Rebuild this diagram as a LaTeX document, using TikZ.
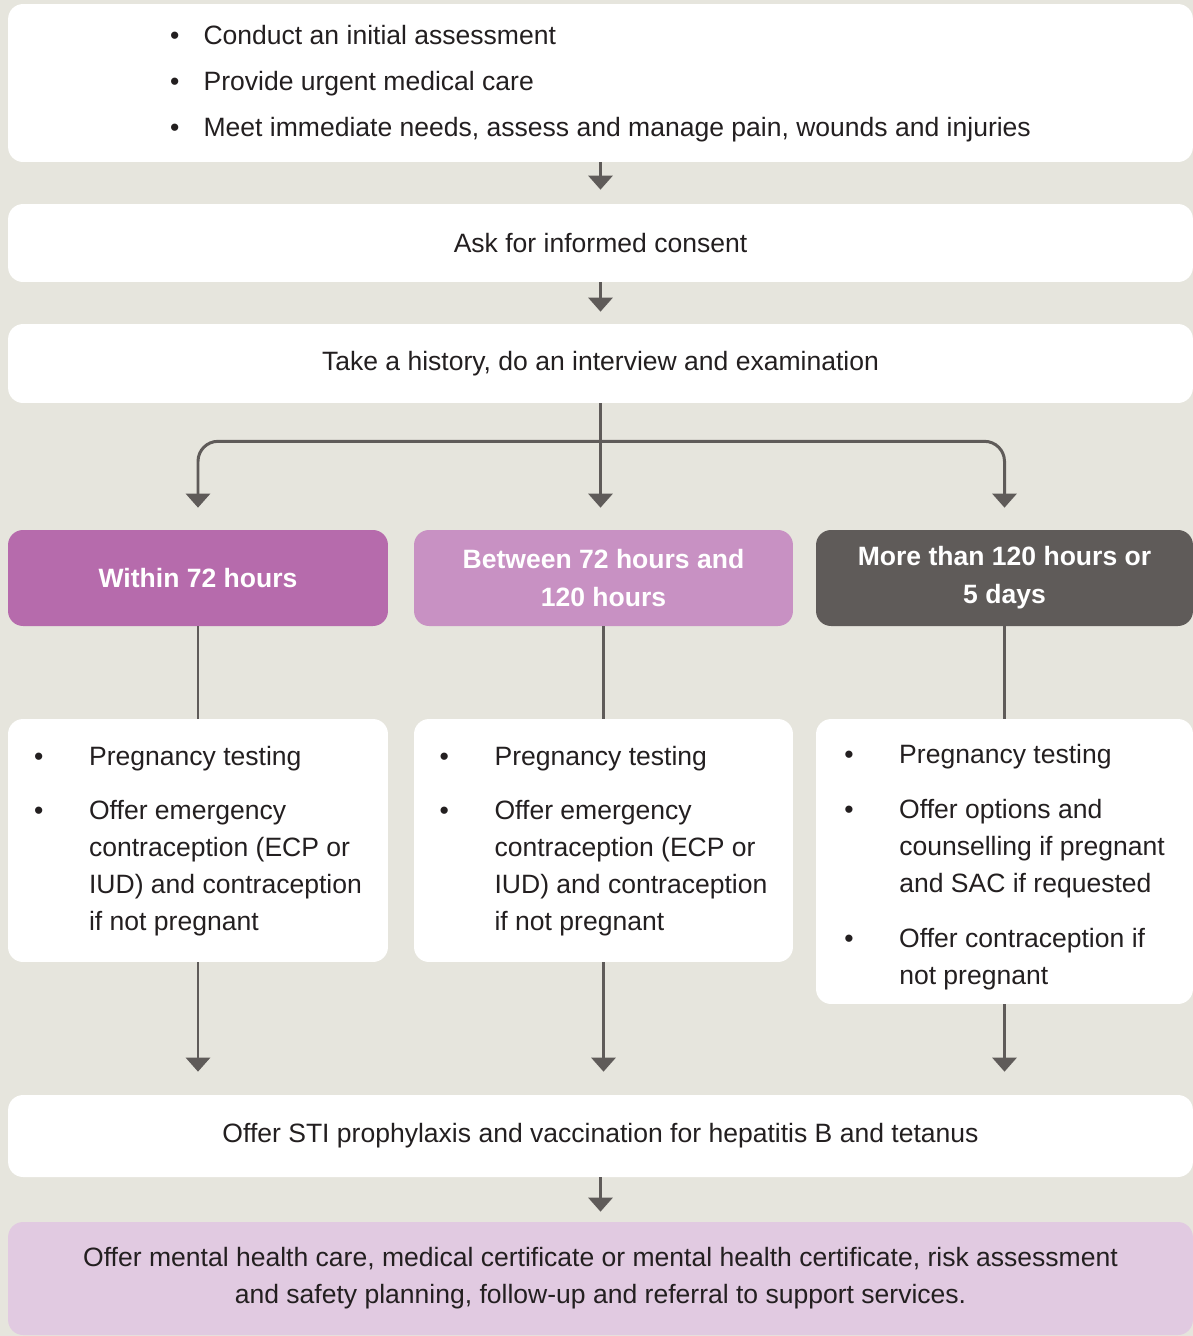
\documentclass[tikz,border=0pt]{standalone}
\usepackage{fontspec}
\setmainfont{Liberation Sans}
\usetikzlibrary{arrows.meta}
\definecolor{bgcol}{HTML}{E6E5DD}
\definecolor{linecol}{HTML}{5F5B59}
\definecolor{plum}{HTML}{B66BAC}
\definecolor{lightplum}{HTML}{C891C3}
\definecolor{darkgrey}{HTML}{5F5B59}
\definecolor{paleplum}{HTML}{E1CAE1}
\definecolor{txt}{HTML}{231F20}
\begin{document}
\begin{tikzpicture}[x=0.02cm,y=-0.02cm,
    box/.style={fill=white,rounded corners=0.3cm,inner sep=0pt,
      font=\fontsize{15.1}{21}\selectfont,text=txt,align=center},
    head/.style={box,fill=#1,text=white,
      font=\fontsize{15.1}{21.6}\selectfont\bfseries},
    link/.style={draw=linecol,line width=1.7pt},
    arr/.style={link,-{Triangle[width=0.48cm,length=0.28cm]}}]
  \fill[bgcol] (0,0) rectangle (1193,1336);
  \useasboundingbox (0,0) rectangle (1193,1336);
  \def\bl{\textbullet}
  \node[box,minimum width=23.7cm,minimum height=3.16cm] (assess) at (600.5,83)
    {\begin{tabular}{@{}p{0.67cm}@{}l@{}}
      \bl & Conduct an initial assessment\\[0.18cm]
      \bl & Provide urgent medical care\\[0.18cm]
      \bl & Meet immediate needs, assess and manage pain, wounds and injuries
    \end{tabular}};
  \node[box,minimum width=23.7cm,minimum height=1.56cm] (consent) at (600.5,243)
    {Ask for informed consent};
  \node[box,minimum width=23.7cm,minimum height=1.58cm] (history) at (600.5,363.5)
    {Take a history, do an interview and examination};
  \node[head=plum,minimum width=7.6cm,minimum height=1.92cm] (hA) at (198,578)
    {Within 72 hours};
  \node[head=lightplum,minimum width=7.58cm,minimum height=1.92cm] (hB) at (603.5,578)
    {Between 72 hours and\\120 hours};
  \node[head=darkgrey,minimum width=7.54cm,minimum height=1.92cm] (hC) at (1004.5,578)
    {More than 120 hours or\\5 days};
  \node[box,minimum width=7.6cm,minimum height=4.86cm] (cA) at (198,840.5)
    {\begin{tabular}{@{}p{1.1cm}@{}l@{}}
      \bl & Pregnancy testing\\[0.36cm]
      \bl & Offer emergency\\
          & contraception (ECP or\\
          & IUD) and contraception\\
          & if not pregnant
    \end{tabular}};
  \node[box,minimum width=7.58cm,minimum height=4.86cm] (cB) at (603.5,840.5)
    {\begin{tabular}{@{}p{1.1cm}@{}l@{}}
      \bl & Pregnancy testing\\[0.36cm]
      \bl & Offer emergency\\
          & contraception (ECP or\\
          & IUD) and contraception\\
          & if not pregnant
    \end{tabular}};
  \node[box,minimum width=7.54cm,minimum height=5.7cm] (cC) at (1004.5,861.5)
    {\raisebox{-0.1cm}[\height][\depth]{\begin{tabular}{@{}p{1.1cm}@{}l@{}}
      \bl & Pregnancy testing\\[0.36cm]
      \bl & Offer options and\\
          & counselling if pregnant\\
          & and SAC if requested\\[0.36cm]
      \bl & Offer contraception if\\
          & not pregnant
    \end{tabular}}};
  \node[box,minimum width=23.7cm,minimum height=1.64cm] (sti) at (600.5,1136)
    {Offer STI prophylaxis and vaccination for hepatitis B and tetanus};
  \node[box,fill=paleplum,minimum width=23.7cm,minimum height=2.26cm] (care) at (600.5,1278.5)
    {Offer mental health care, medical certificate or mental health certificate, risk assessment\\
     and safety planning, follow-up and referral to support services.};
  \draw[arr,shorten >=0.28cm] (assess) -- (consent);
  \draw[arr,shorten >=0.24cm] (consent) -- (history);
  \coordinate (fork) at ([yshift=-0.76cm]history.south);
  \draw[arr,shorten >=0.44cm] (history.south) -- (history.south |- hB.north);
  \draw[arr,rounded corners=0.4cm,shorten >=0.44cm] (fork) -| (hA.north);
  \draw[arr,rounded corners=0.4cm,shorten >=0.44cm] (fork) -| (hC.north);
  \draw[link] (hA) -- (cA);
  \draw[link] (hB) -- (cB);
  \draw[link] (hC) -- (cC);
  \draw[arr,shorten >=0.46cm] (cA.south) -- (cA.south |- sti.north);
  \draw[arr,shorten >=0.46cm] (cB.south) -- (cB.south |- sti.north);
  \draw[arr,shorten >=0.46cm] (cC.south) -- (cC.south |- sti.north);
  \draw[arr,shorten >=0.2cm] (sti) -- (care);
\end{tikzpicture}
\end{document}
